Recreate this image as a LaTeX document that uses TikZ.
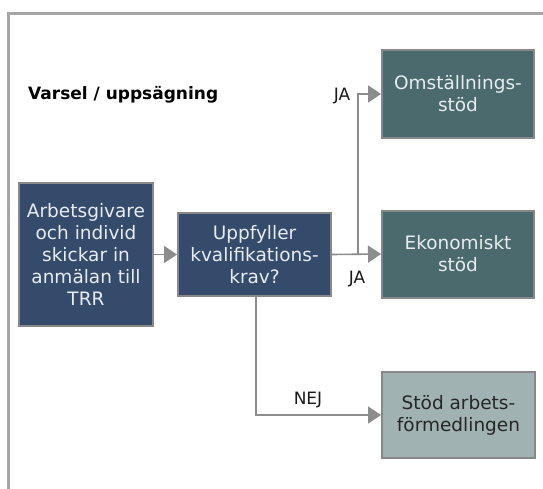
\documentclass[tikz,border=0pt]{standalone}
\usepackage{fontspec}
\setmainfont{DejaVu Sans}
\usetikzlibrary{arrows.meta}
\definecolor{darkblue}{RGB}{53,75,107}
\definecolor{teal2}{RGB}{74,106,110}
\definecolor{lightteal}{RGB}{161,178,179}
\definecolor{boxborder}{RGB}{136,136,136}
\definecolor{lighttext}{RGB}{232,236,240}
\definecolor{frameline}{RGB}{165,165,165}
\definecolor{arrowgray}{RGB}{140,140,140}
\tikzset{
  boxbase/.style={draw=boxborder, line width=2pt, align=center, inner sep=0pt,
    font=\fontsize{18.5}{22}\selectfont},
  bluebox/.style={boxbase, fill=darkblue, text=lighttext},
  tealbox/.style={boxbase, fill=teal2, text=lighttext},
  lightbox/.style={boxbase, fill=lightteal, text=black!85},
  conn/.style={draw=arrowgray, line width=1.6pt, -{Triangle[length=13pt,width=17pt]}},
  lbl/.style={font=\fontsize{17}{20}\selectfont, text=black!90, inner sep=0pt}
}
\begin{document}
\begin{tikzpicture}[x=1pt,y=-1pt]
\useasboundingbox[fill=white] (0,0) rectangle (543,489);
% frame
\draw[frameline, line width=3pt] (8.5,489) -- (8.5,13.5) -- (543,13.5);
% title
\node[anchor=west, inner sep=0pt, font=\bfseries\fontsize{17}{21}\selectfont] (title) at (28,95) {Varsel / uppsägning};
% boxes
\node[bluebox, minimum width=134pt, minimum height=143pt] (A) at (86,254.5)
  {Arbetsgivare\\och individ\\skickar in\\anmälan till\\TRR};
\node[bluebox, minimum width=153pt, minimum height=83pt] (U) at (254.5,254.5)
  {Uppfyller\\kvalifikations-\\krav?};
\node[tealbox, minimum width=152pt, minimum height=88pt] (O) at (458,94)
  {Omställnings-\\stöd};
\node[tealbox, minimum width=152pt, minimum height=87pt] (E) at (458,254)
  {Ekonomiskt\\stöd};
\node[lightbox, minimum width=153pt, minimum height=86pt] (S) at (458.5,415)
  {Stöd arbets-\\förmedlingen};
% connectors
\coordinate (br) at (358,254.5);
\draw[conn] (A.east) -- (U.west);
\draw[conn] (U.east) -- (E.west);
\draw[conn] (br) |- (O.west);
\draw[conn] ([xshift=1.5pt]U.south) |- (S.west);
% labels
\node[lbl] (ja1) at (342,96) {JA};
\node[lbl] (ja2) at (357,279) {JA};
\node[lbl] (nej) at (308,400) {NEJ};
\end{tikzpicture}
\end{document}
